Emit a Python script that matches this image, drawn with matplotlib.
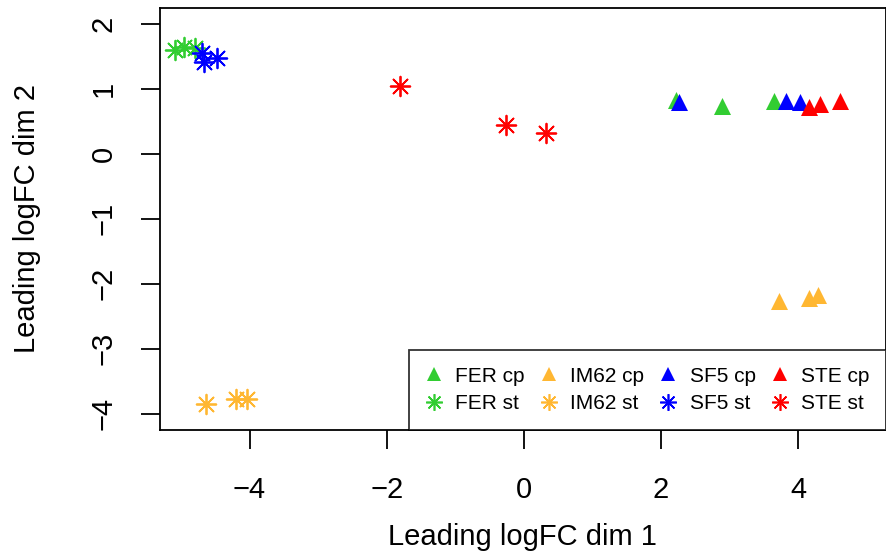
import matplotlib
matplotlib.use('Agg')
import matplotlib.pyplot as plt
from matplotlib.lines import Line2D

plt.rcParams['font.family'] = ['Liberation Sans', 'DejaVu Sans']

groups = ['FER', 'IM62', 'SF5', 'STE']
colors = {'FER': '#32CD32', 'IM62': '#FFB732', 'SF5': '#0000FF', 'STE': '#FF0000'}

# cp samples (triangles)
cp_x = {'FER': [2.22, 2.89, 3.64],
        'IM62': [3.72, 4.16, 4.28],
        'SF5': [2.26, 3.82, 4.03],
        'STE': [4.15, 4.31, 4.61]}
cp_y = {'FER': [0.83, 0.74, 0.81],
        'IM62': [-2.26, -2.22, -2.17],
        'SF5': [0.80, 0.82, 0.80],
        'STE': [0.72, 0.77, 0.82]}

# st samples (asterisks)
st_x = {'FER': [-5.08, -4.95, -4.79],
        'IM62': [-4.63, -4.19, -4.03],
        'SF5': [-4.69, -4.66, -4.47],
        'STE': [-1.81, -0.26, 0.32]}
st_y = {'FER': [1.60, 1.65, 1.63],
        'IM62': [-3.86, -3.77, -3.77],
        'SF5': [1.55, 1.42, 1.48],
        'STE': [1.05, 0.45, 0.32]}

star = (8, 2, 0)

fig = plt.figure(figsize=(8.87, 5.56), dpi=100)
ax = fig.add_axes([0.180, 0.227, 0.819, 0.759])

for g in groups:
    ax.scatter(cp_x[g], cp_y[g], marker='^', s=150, color=colors[g], linewidths=0)
for g in groups:
    ax.scatter(st_x[g], st_y[g], marker=star, s=200, color=colors[g], linewidths=1.3)

ax.set_xlim(-5.31, 5.28)
ax.set_ylim(-4.25, 2.25)
ax.set_xticks([-4, -2, 0, 2, 4])
ax.set_yticks([-4, -3, -2, -1, 0, 1, 2])
ax.set_xticklabels(['\u22124', '\u22122', '0', '2', '4'])
ax.set_yticklabels(['\u22124', '\u22123', '\u22122', '\u22121', '0', '1', '2'],
                   rotation=90, va='center')
ax.tick_params(axis='both', direction='out', length=14, width=1.3, labelsize=21)
ax.tick_params(axis='x', pad=19)
ax.tick_params(axis='y', pad=16)
for s in ax.spines.values():
    s.set_linewidth(1.3)

ax.set_xlabel('Leading logFC dim 1', fontsize=21)
ax.set_ylabel('Leading logFC dim 2', fontsize=21)
ax.xaxis.set_label_coords(0.5, -0.221)
ax.yaxis.set_label_coords(-0.164, 0.5)

handles = []
labels = []
for g in groups:
    handles.append(Line2D([], [], linestyle='none', marker='^', markersize=10,
                          color=colors[g], markeredgewidth=0))
    labels.append(g + ' cp')
    handles.append(Line2D([], [], linestyle='none', marker=star, markersize=12,
                          color=colors[g], markeredgewidth=1.2))
    labels.append(g + ' st')

leg = ax.legend(handles, labels, ncol=4, loc='lower right', fontsize=15,
                frameon=True, fancybox=False, edgecolor='black', borderaxespad=0,
                handlelength=0.8, handletextpad=0.63, columnspacing=0.75,
                labelspacing=0.4, borderpad=0.8)
leg.get_frame().set_linewidth(1.3)

fig.savefig('out.png', dpi=100)
